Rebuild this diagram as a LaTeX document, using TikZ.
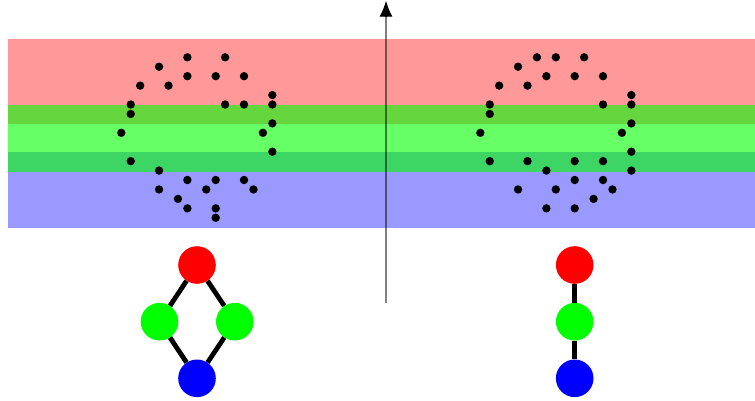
\documentclass[tikz,border=0pt]{standalone}
\usetikzlibrary{arrows.meta}
\begin{document}
\begin{tikzpicture}[x=1pt,y=-1pt,
  gnode/.style={circle, inner sep=0pt, minimum size=37.6pt},
  edge/.style={line width=4.8pt, black},
  axisline/.style={draw=black, opacity=0.5, line width=1.3pt}]
\useasboundingbox (0,0) rectangle (755,401);

% translucent colour bands
\fill[red, opacity=0.4] (8,39) rectangle (755,124);
\fill[blue, opacity=0.4] (8,152) rectangle (755,228);
\fill[green, opacity=0.6] (8,105) rectangle (755,172);

% dot clouds on a grid of 9.44pt
\def\gs{9.44}
\foreach \i/\j in {7/0,11/0,4/1,7/2,10/2,13/2,2/3,5/3,16/4,1/5,11/5,13/5,16/5,
  1/6,16/7,0/8,15/8,16/10,1/11,4/12,7/13,10/13,13/13,4/14,9/14,14/14,6/15,
  7/16,10/16,10/17}
  \fill (121.3+\gs*\i, 57.3+\gs*\j) circle[radius=4.2pt];
\foreach \i/\j in {6/0,8/0,11/0,4/1,7/2,10/2,13/2,2/3,5/3,16/4,1/5,13/5,16/5,
  1/6,16/7,0/8,15/8,16/10,1/11,5/11,10/11,13/11,7/12,16/12,10/13,13/13,
  4/14,8/14,14/14,12/15,7/16,10/16}
  \fill (480.3+\gs*\i, 57.3+\gs*\j) circle[radius=4.2pt];

% vertical axis
\coordinate (ax0) at (386,303);
\coordinate (axbase) at (386,17);
\coordinate (axtip) at (386,0.7);
\draw[axisline] (ax0) -- (axbase);
\draw[-{Latex[length=16pt,width=13pt]}, line width=1.3pt] (axbase) -- (axtip);

% diamond graph
\node[gnode, fill=red] (l1) at (197,265) {};
\node[gnode, fill=green] (l2) at (159.5,321.7) {};
\node[gnode, fill=green] (l3) at (234.8,321.7) {};
\node[gnode, fill=blue] (l4) at (197,378.3) {};
\draw[edge] (l1) -- (l2);
\draw[edge] (l1) -- (l3);
\draw[edge] (l2) -- (l4);
\draw[edge] (l3) -- (l4);

% chain graph
\node[gnode, fill=red] (r1) at (574.7,265) {};
\node[gnode, fill=green] (r2) at (574.7,321.7) {};
\node[gnode, fill=blue] (r3) at (574.7,378.3) {};
\draw[edge] (r1) -- (r2);
\draw[edge] (r2) -- (r3);
\end{tikzpicture}
\end{document}
